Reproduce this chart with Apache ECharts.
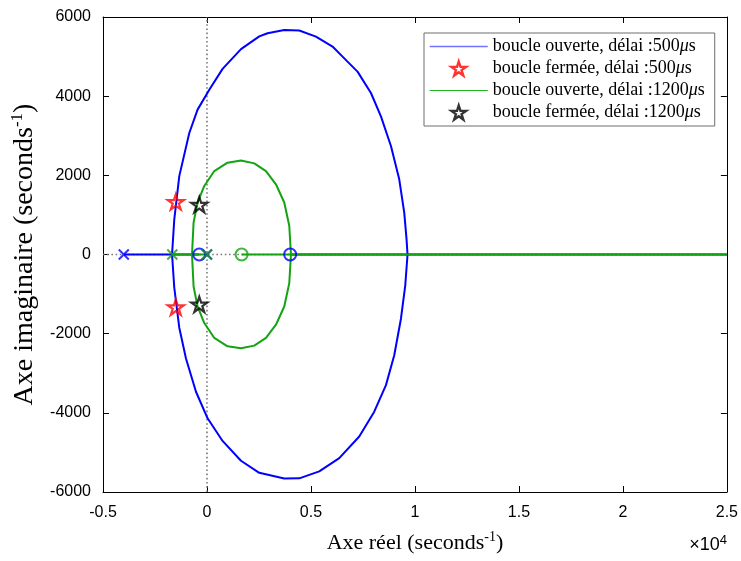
<!DOCTYPE html>
<html>
<head>
<meta charset="utf-8">
<title>Lieu des racines</title>
<script src="https://cdn.jsdelivr.net/npm/echarts@6/dist/echarts.min.js"></script>
<style>
  html, body { margin: 0; padding: 0; background: #fff; }
  #chart { width: 741px; height: 561px; }
</style>
</head>
<body>
<div id="chart"></div>
<script>
// Root locus branches, [real, imag] in s^-1
const blueLocusUpper = [
  [-1680, 0], [-1572, 890], [-1332, 1980], [-851, 3070], [-452, 3660], [111, 4160],
  [750, 4690], [1635, 5190], [2514, 5510], [2913, 5590], [3716, 5670], [4438, 5660],
  [5240, 5505], [6038, 5253], [6519, 5000], [7240, 4620], [7885, 4080], [8365, 3490],
  [8846, 2740], [9245, 1900], [9486, 1060], [9596, 390], [9644, 0]
];
const blueLocusLower = [
  [-1680, 0], [-1572, -840], [-1332, -1850], [-1010, -2629], [-529, -3467], [29, -4138],
  [750, -4710], [1635, -5210], [2514, -5515], [3716, -5660], [4438, -5655], [5399, -5479],
  [6361, -5145], [7322, -4599], [8043, -3970], [8606, -3300], [9005, -2546], [9327, -1623],
  [9534, -785], [9644, 0]
];
const greenLocusUpper = [
  [-720, 0], [-644, 810], [-452, 1313], [-130, 1731], [351, 2108], [990, 2319],
  [1635, 2377], [2274, 2302], [2837, 2108], [3317, 1774], [3716, 1313], [3957, 725], [4038, 0]
];
const greenLocusLower = [
  [-720, 0], [-644, -810], [-452, -1313], [-130, -1731], [351, -2108], [990, -2319],
  [1635, -2370], [2274, -2302], [2837, -2108], [3317, -1774], [3716, -1313], [3957, -725], [4038, 0]
];
// Real-axis portions of the locus
const blueRealLeft = [[-4000, 0], [-370, 0]];
const blueRealRight = [[4000, 0], [25000, 0]];
const greenRealLeft = [[-1667, 0], [0, 0]];
const greenRealRight = [[1667, 0], [25000, 0]];
// Open-loop poles (x) and zeros (o)
const bluePoles = [[-4000, 0], [0, 0]];
const blueZeros = [[-370, 0], [4000, 0]];
const greenPoles = [[-1667, 0], [0, 0]];
const greenZeros = [[1667, 0]];
// Closed-loop poles
const closedLoop500 = [[-1500, 1330], [-1500, -1330]];
const closedLoop1200 = [[-370, 1260], [-370, -1260]];
// Reference lines through the origin
const realAxisRef = [[-5000, 0], [25000, 0]];
const imagAxisRef = [[0, -6000], [0, 6000]];
// Axis ranges and ticks
const xRange = { min: -5000, max: 25000, step: 5000 };
const yRange = { min: -6000, max: 6000, step: 2000 };

const names = [
  'boucle ouverte, délai :500μs',
  'boucle fermée, délai :500μs',
  'boucle ouverte, délai :1200μs',
  'boucle fermée, délai :1200μs'
];

const BLUE = '#0000ff';
const GREEN = '#13a313';
const STAR = 'path://M50,0L61.17,34.63L97.55,34.55L68.07,55.87L79.39,90.45L50,69L20.61,90.45L31.93,55.87L2.45,34.55L38.83,34.63Z';
const CROSS = 'path://M0,0L10,10M10,0L0,10';

const serif = 'Liberation Serif';
const sans = 'Liberation Sans';
const CLEAR = 'rgba(0,0,0,0)';

function locusLine(data, color, z, name) {
  return {
    type: 'line', name: name, data: data, symbol: 'none', z: z,
    lineStyle: { color: color, width: 2 }, itemStyle: { color: color },
    silent: true, animation: false
  };
}
function markerSeries(data, symbol, size, color, z, name, width) {
  return {
    type: 'scatter', name: name, data: data, symbol: symbol, symbolSize: size,
    symbolKeepAspect: true, z: z,
    itemStyle: { color: CLEAR, borderColor: color, borderWidth: width || 2 },
    silent: true, animation: false
  };
}
function refLine(data) {
  return {
    type: 'line', data: data, symbol: 'none', z: 1, silent: true, animation: false,
    lineStyle: { color: '#7a7a7a', width: 1.6, type: [1.6, 2.6] }
  };
}

const axisCommon = {
  type: 'value',
  axisLine: { show: true, onZero: false, lineStyle: { color: '#000', width: 1 } },
  axisTick: { show: true, inside: true, length: 6, lineStyle: { color: '#000', width: 1 } },
  splitLine: { show: false }
};

const chart = echarts.init(document.getElementById('chart'), null, { renderer: 'canvas' });
chart.setOption({
  animation: false,
  backgroundColor: '#fff',
  grid: { left: 103, right: 14, top: 17, bottom: 67, containLabel: false },
  xAxis: [
    Object.assign({}, axisCommon, {
      position: 'bottom', min: xRange.min, max: xRange.max, interval: xRange.step,
      axisLabel: {
        color: '#000', fontFamily: sans, fontSize: 16, margin: 13,
        formatter: v => String(Math.round(v / 1000) / 10)
      },
      name: 'Axe réel (seconds{sup|-1})',
      nameLocation: 'middle', nameGap: 38,
      nameTextStyle: {
        color: '#000', fontFamily: serif, fontSize: 22, lineHeight: 26,
        rich: { sup: { fontFamily: serif, fontSize: 14, verticalAlign: 'top', lineHeight: 26 } }
      }
    }),
    Object.assign({}, axisCommon, {
      position: 'top', min: xRange.min, max: xRange.max, interval: xRange.step,
      axisLabel: { show: false }
    })
  ],
  yAxis: [
    Object.assign({}, axisCommon, {
      position: 'left', min: yRange.min, max: yRange.max, interval: yRange.step,
      axisLabel: { color: '#000', fontFamily: sans, fontSize: 16, margin: 12, formatter: v => String(v) },
      name: 'Axe imaginaire (seconds{sup|-1})',
      nameLocation: 'middle', nameGap: 56,
      nameTextStyle: {
        color: '#000', fontFamily: serif, fontSize: 28, lineHeight: 30,
        rich: { sup: { fontFamily: serif, fontSize: 17, verticalAlign: 'top', lineHeight: 30 } }
      }
    }),
    Object.assign({}, axisCommon, {
      position: 'right', min: yRange.min, max: yRange.max, interval: yRange.step,
      axisLabel: { show: false }
    })
  ],
  legend: {
    orient: 'vertical', left: 424, top: 33,
    padding: [3, 10, 3, 5],
    itemWidth: 58, itemHeight: 14, itemGap: 1,
    backgroundColor: '#fff', borderColor: '#6e6e6e', borderWidth: 1,
    selectedMode: false,
    textStyle: {
      color: '#000', fontFamily: serif, fontSize: 18, lineHeight: 21,
      rich: { mu: { fontFamily: serif, fontStyle: 'italic', fontSize: 18, lineHeight: 21 } }
    },
    formatter: n => n.replace('μ', '{mu|μ}'),
    data: [
      { name: names[0], lineStyle: { color: '#7373ff', width: 1.5 }, itemStyle: { color: CLEAR, borderWidth: 0, opacity: 0 } },
      { name: names[1], itemStyle: { color: CLEAR, borderColor: '#ff0000', borderWidth: 2.4 } },
      { name: names[2], lineStyle: { color: '#1fb31f', width: 1.2 }, itemStyle: { color: CLEAR, borderWidth: 0, opacity: 0 } },
      { name: names[3], itemStyle: { color: CLEAR, borderColor: '#000', borderWidth: 2.4 } }
    ]
  },
  graphic: [{
    type: 'text', right: 14, top: 534, silent: true,
    style: {
      text: '×10{e|4}', fill: '#000', font: '18px "Liberation Sans"',
      rich: { e: { fontSize: 13, fontFamily: sans, verticalAlign: 'top', lineHeight: 22 } },
      lineHeight: 22
    }
  }],
  series: [
    refLine(realAxisRef),
    refLine(imagAxisRef),
    locusLine(blueLocusUpper, BLUE, 3, names[0]),
    locusLine(blueLocusLower, BLUE, 3),
    locusLine(blueRealLeft, BLUE, 3),
    locusLine(blueRealRight, BLUE, 3),
    locusLine(greenLocusUpper, GREEN, 4, names[2]),
    locusLine(greenLocusLower, GREEN, 4),
    locusLine(greenRealLeft, GREEN, 4),
    locusLine(greenRealRight, GREEN, 4),
    markerSeries(blueZeros, 'circle', 12, BLUE, 5),
    markerSeries(bluePoles, CROSS, 10, BLUE, 5),
    markerSeries(greenZeros, 'circle', 12, GREEN, 6),
    markerSeries(greenPoles, CROSS, 10, GREEN, 6),
    markerSeries(closedLoop500, STAR, 16, '#ff0000', 7, names[1], 2.2),
    markerSeries(closedLoop1200, STAR, 16, '#000000', 7, names[3], 2.2)
  ]
});
</script>
</body>
</html>
